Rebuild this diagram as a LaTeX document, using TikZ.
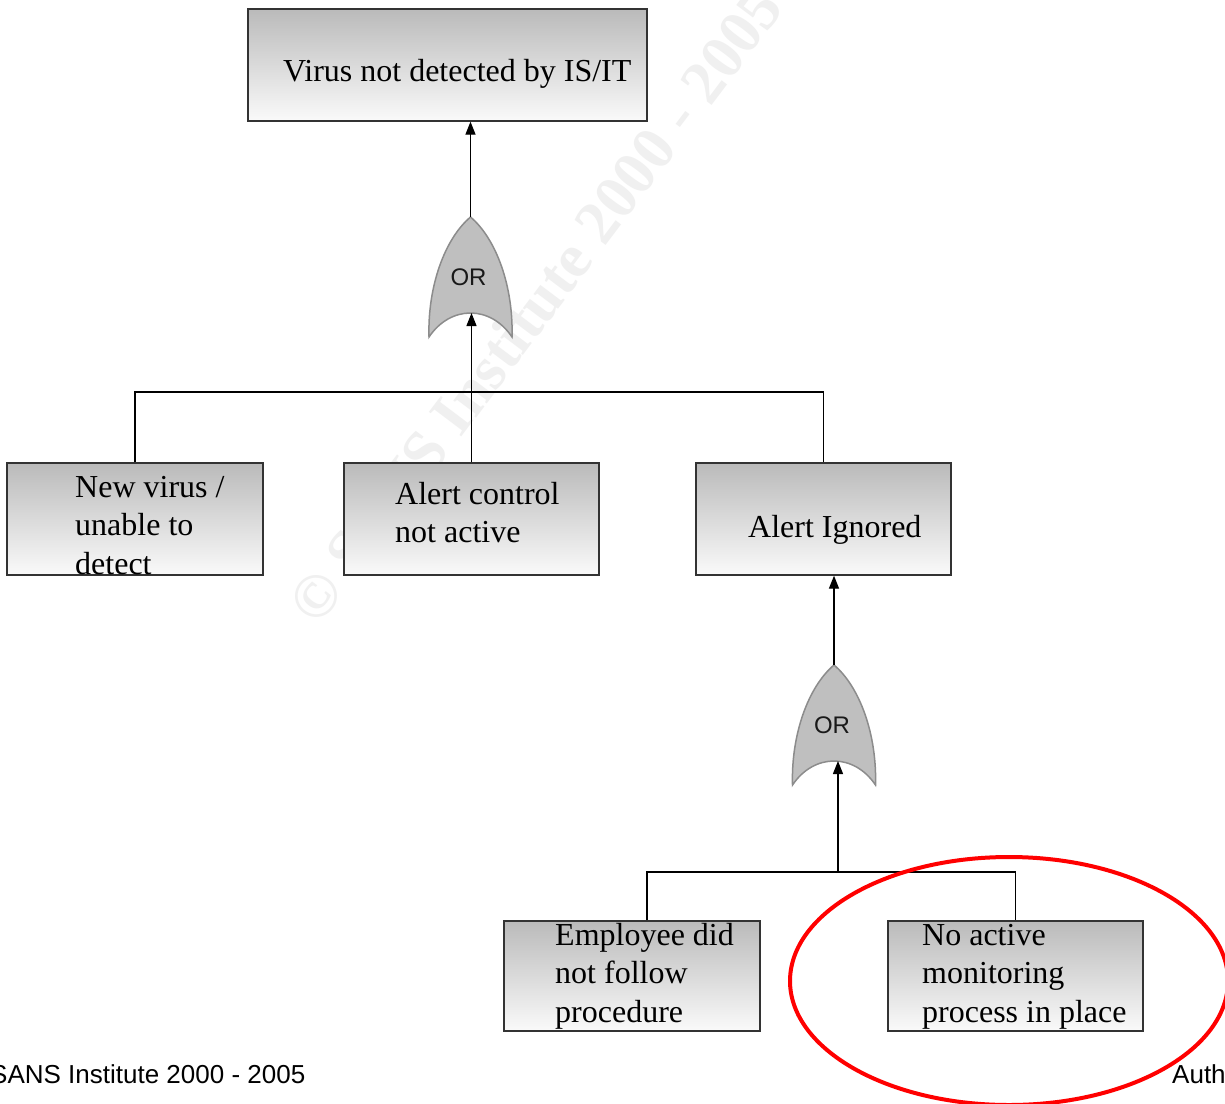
\documentclass[tikz,border=0pt]{standalone}
\usepackage{fontspec}
\setmainfont{Liberation Serif}
\newfontfamily\footfont{Liberation Sans}
\usetikzlibrary{arrows.meta}
\newcommand\ftlines[1]{\begin{tabular}[t]{@{}l@{}}#1\end{tabular}}
\tikzset{
  orgate/.pic={
    \path[gatebody] (0,0) .. controls (-26,22) and (-43,70) .. (-41.5,120)
      .. controls (-20,88) and (20,88) .. (41.5,120)
      .. controls (43,70) and (26,22) .. (0,0) -- cycle;
    \node[gatelabel] (-lbl) at (-2,60) {OR};
    \coordinate (-top) at (0,0);
    \coordinate (-in) at (0,96);
  }
}
\begin{document}
\begin{tikzpicture}[x=1pt,y=-1pt,
  fbox/.style={draw=black!80, line width=1.3pt, top color=black!27, bottom color=black!2, inner sep=0pt},
  conn/.style={draw=black, line width=1.3pt},
  arr/.style={conn, -{Triangle[length=13pt,width=10pt]}},
  ftext/.style={anchor=base west, inner sep=0pt, font=\fontsize{32}{38.5}\selectfont},
  gatebody/.style={fill=black!25, draw=black!45, line width=1.5pt},
  gatelabel/.style={font=\footfont\fontsize{24}{24}\selectfont, text=black!90, inner sep=0pt},
  foot/.style={anchor=base west, inner sep=0pt, font=\footfont\fontsize{26}{26}\selectfont}
]
\path[use as bounding box, clip] (0,0) rectangle (1225,1103);
\fill[white] (0,0) rectangle (1225,1103);

% watermark
\node[rotate=53, text=black!6, font=\bfseries\fontsize{62}{62}\selectfont, inner sep=0pt] (wm) at (535,305) {© SANS Institute 2000 - 2005};

% boxes
\node[fbox, minimum width=399, minimum height=112] (top) at (447.5,65) {};
\node[fbox, minimum width=256, minimum height=112] (nv) at (135,519) {};
\node[fbox, minimum width=255, minimum height=112] (ac) at (471.5,519) {};
\node[fbox, minimum width=255, minimum height=112] (ai) at (823.5,519) {};
\node[fbox, minimum width=256, minimum height=110] (emp) at (632,976) {};
\node[fbox, minimum width=255, minimum height=110] (noa) at (1015.5,976) {};

% box texts
\node[ftext] (topt) at (283,81) {Virus not detected by IS/IT};
\node[ftext] (nvt) at (75,497) {\ftlines{New virus /\\unable to\\detect}};
\node[ftext] (act) at (395,504) {\ftlines{Alert control\\not active}};
\node[ftext] (ait) at (748,537) {Alert Ignored};
\node[ftext] (empt) at (555,945) {\ftlines{Employee did\\not follow\\procedure}};
\node[ftext] (noat) at (922,945) {\ftlines{No active\\monitoring\\process in place}};

% gates
\pic (g1) at (470.5,217) {orgate};
\pic (g2) at (834,665) {orgate};

% junctions
\coordinate (j1) at (471.5,392);
\coordinate (j2) at (838,872);

% connectors
\draw[conn] (nv.north) |- (j1) -| (ai.north);
\draw[conn] (ac.north) -- (j1);
\draw[arr] (j1) -- (j1 |- g1-in);
\draw[arr] (g1-top) -- (g1-top |- top.south);
\draw[conn] ([xshift=15]emp.north) |- (j2) -| (noa.north);
\draw[arr] (j2) -- (j2 |- g2-in);
\draw[arr] (g2-top) -- (g2-top |- ai.south);

% red highlight
\draw[red, line width=4pt] (1009,981) ellipse [x radius=219, y radius=124];

% footer
\node[foot] (ft) at (-10,1083) {SANS Institute 2000 - 2005};
\node[foot] (au) at (1172,1083) {Auth};
\end{tikzpicture}
\end{document}
